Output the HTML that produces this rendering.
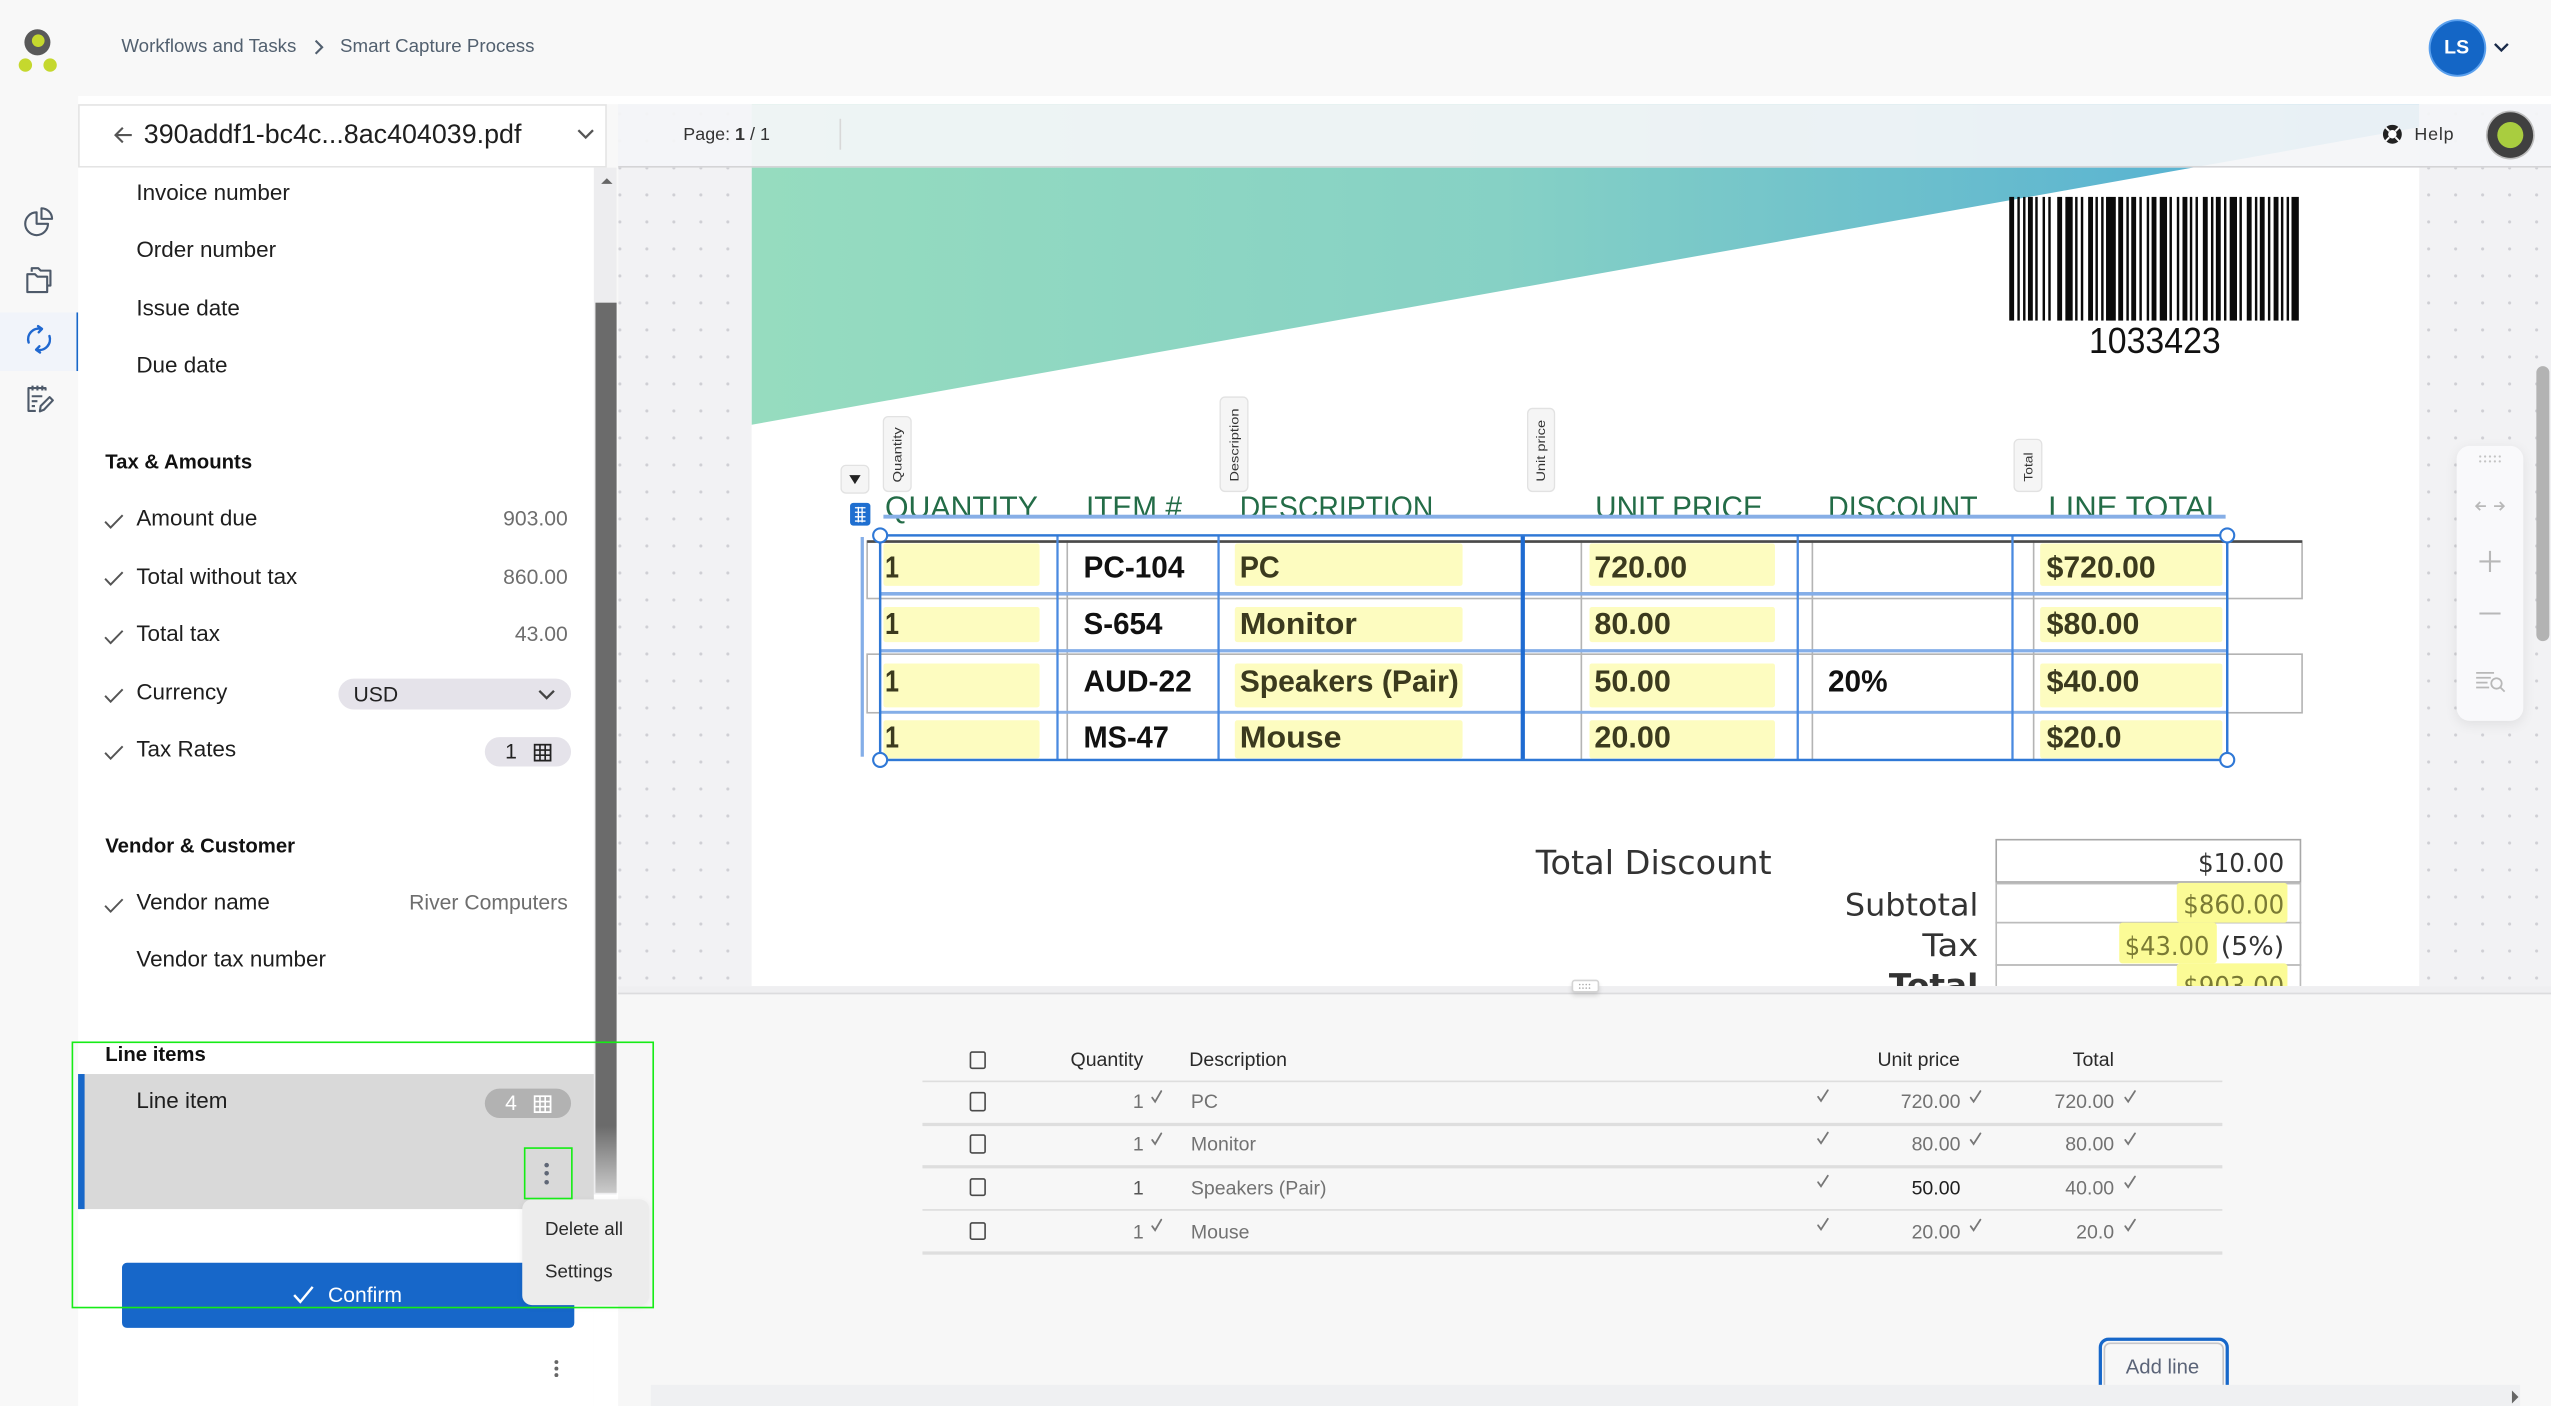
<!DOCTYPE html>
<html><head><meta charset="utf-8"><title>Smart Capture Process</title>
<style>
html,body{margin:0;padding:0;background:#f8f8f8;width:2551px;height:1406px;overflow:hidden}
#s{position:absolute;left:0;top:0;width:1568px;height:864px;transform:scale(1.62691,1.62731);transform-origin:0 0;font-family:"Liberation Sans",Arial,sans-serif;color:#222;background:#f8f8f8;overflow:hidden}
.a{position:absolute;white-space:nowrap}
.t{position:absolute;white-space:nowrap;height:20px;line-height:20px}
.lbl{font-size:13.8px;color:#1e1e1e}
.val{font-size:13px;color:#6e6e6e;text-align:right;width:200px;left:149px}
.hd{font-size:12.5px;font-weight:bold;color:#111}
.bt{font-size:12px;color:#2a2a2a}
.bv{font-size:12px;color:#727272}
.cb{position:absolute;width:10.5px;height:11.5px;border:1.5px solid #4a4a4a;border-radius:1.5px;box-sizing:border-box}
.rl{position:absolute;left:567px;width:799px;height:1.5px;background:#dedede}
</style></head><body><div id="s">

<!-- active rail bg -->
<div class="a" style="left:0;top:192px;width:46.5px;height:35.5px;background:#f1f4fa"></div>
<div class="a" style="left:46.5px;top:192px;width:2px;height:35.5px;background:#1767c9"></div>

<!-- logo + rail icons -->
<svg class="a" style="left:0;top:0" width="48" height="260" viewBox="0 0 48 260">
<circle cx="23" cy="26" r="8" fill="#595959"/>
<circle cx="23.5" cy="25" r="3.9" fill="#c5d82e"/>
<circle cx="15.6" cy="40" r="4.1" fill="#c5d82e"/>
<circle cx="30.8" cy="40" r="4.1" fill="#c5d82e"/>
<g fill="none" stroke="#4e5a6a" stroke-width="1.3" stroke-linejoin="round">
<path d="M22.5 130.5 A7 7 0 1 0 29.5 137.5 H22.5 Z"/>
<path d="M25.5 128 V134.5 H32 A6.5 6.5 0 0 0 25.5 128 Z"/>
<path d="M19.5 167 V164.8 H23.5 L25 166.3 H31 V175.5 H29"/>
<path d="M16.8 168.5 H21.5 L23 170 H29 V179.5 H16.8 Z"/>
<path d="M28 240 V238.5 H17.5 V252.5 H22"/>
<path d="M20 237 V240 M23 237 V240 M26 237 V240"/>
<path d="M19.5 243.5 H26 M19.5 246.5 H23 M19.5 249.5 H21.5"/>
<path d="M24.5 252.8 L25 249.5 L30.5 244 L32.5 246 L27 251.8 Z"/>
</g>
<g fill="none" stroke="#2068d0" stroke-width="1.5" stroke-linecap="round" stroke-linejoin="round">
<path d="M17.6 210.5 A6.6 6.6 0 0 1 25.5 202.1"/>
<path d="M23.4 200.4 L25.8 202.1 L23.8 204.2"/>
<path d="M30.4 206.5 A6.6 6.6 0 0 1 22.5 214.9"/>
<path d="M24.6 216.6 L22.2 214.9 L24.2 212.8"/>
</g>
</svg>

<!-- breadcrumb -->
<div class="t" style="left:74.6px;top:19px;font-size:11.5px;color:#52606f">Workflows and Tasks</div>
<svg class="a" style="left:192px;top:24px" width="8" height="10" viewBox="0 0 8 10"><polyline points="2,1 6,5 2,9" fill="none" stroke="#52606f" stroke-width="1.3"/></svg>
<div class="t" style="left:209px;top:19px;font-size:11.5px;color:#52606f">Smart Capture Process</div>

<!-- avatar -->
<div class="a" style="left:1493.5px;top:13px;width:33px;height:33px;border-radius:50%;background:#1466c6;box-shadow:0 0 0 1.2px #5aa0ee;color:#fff;font-weight:bold;font-size:12px;line-height:33px;text-align:center">LS</div>
<svg class="a" style="left:1532px;top:25px" width="11" height="8" viewBox="0 0 11 8"><polyline points="1.5,2 5.5,6 9.5,2" fill="none" stroke="#1a2b4a" stroke-width="1.5"/></svg>

<!-- white strip -->
<div class="a" style="left:48px;top:59px;width:1520px;height:5px;background:#fff"></div>

<!-- left panel header -->
<div class="a" style="left:48px;top:63.5px;width:324.6px;height:39px;background:#fff;border:1px solid #e4e4e4;box-sizing:border-box"></div>
<svg class="a" style="left:69px;top:77px" width="13" height="12" viewBox="0 0 13 12"><path d="M12 6 H2 M6.5 1.5 L2 6 L6.5 10.5" fill="none" stroke="#555" stroke-width="1.3"/></svg>
<div class="t" style="left:88.4px;top:72.5px;font-size:16.5px;color:#1e1e1e">390addf1-bc4c...8ac404039.pdf</div>
<svg class="a" style="left:354px;top:78px" width="12" height="9" viewBox="0 0 12 9"><polyline points="1.5,2 6,6.5 10.5,2" fill="none" stroke="#555" stroke-width="1.4"/></svg>

<!-- left panel list -->
<div class="a" style="left:48px;top:102.5px;width:317px;height:761.5px;background:#fff"></div>
<div class="a" style="left:365px;top:733px;width:15px;height:131px;background:#fff"></div>
<div class="a" style="left:365px;top:102.5px;width:14px;height:631px;background:#ededef"></div>
<div class="a" style="left:366px;top:186px;width:12.6px;height:547px;background:linear-gradient(to bottom,#6b6b6b 0,#6b6b6b 506px,#cbcbcb 100%)"></div>
<svg class="a" style="left:368.5px;top:109px" width="8" height="5" viewBox="0 0 8 5"><polygon points="0.5,4 4,0.5 7.5,4" fill="#666"/></svg>

<div class="t lbl" style="left:83.8px;top:108.5px">Invoice number</div>
<div class="t lbl" style="left:83.8px;top:144px">Order number</div>
<div class="t lbl" style="left:83.8px;top:179.6px">Issue date</div>
<div class="t lbl" style="left:83.8px;top:215.4px">Due date</div>

<div class="t hd" style="left:64.7px;top:273.6px">Tax &amp; Amounts</div>

<svg class="a" style="left:63.7px;top:315.6px" width="12" height="9" viewBox="0 0 12 9"><polyline points="0.6,4.6 4,8.2 11.4,0.6" fill="none" stroke="#555" stroke-width="1.2"/></svg>
<div class="t lbl" style="left:83.8px;top:308.8px">Amount due</div>
<div class="t val" style="top:308.8px">903.00</div>

<svg class="a" style="left:63.7px;top:351.4px" width="12" height="9" viewBox="0 0 12 9"><polyline points="0.6,4.6 4,8.2 11.4,0.6" fill="none" stroke="#555" stroke-width="1.2"/></svg>
<div class="t lbl" style="left:83.8px;top:344.5px">Total without tax</div>
<div class="t val" style="top:344.5px">860.00</div>

<svg class="a" style="left:63.7px;top:386.6px" width="12" height="9" viewBox="0 0 12 9"><polyline points="0.6,4.6 4,8.2 11.4,0.6" fill="none" stroke="#555" stroke-width="1.2"/></svg>
<div class="t lbl" style="left:83.8px;top:379.8px">Total tax</div>
<div class="t val" style="top:379.8px">43.00</div>

<svg class="a" style="left:63.7px;top:422.6px" width="12" height="9" viewBox="0 0 12 9"><polyline points="0.6,4.6 4,8.2 11.4,0.6" fill="none" stroke="#555" stroke-width="1.2"/></svg>
<div class="t lbl" style="left:83.8px;top:415.8px">Currency</div>
<div class="a" style="left:207.7px;top:417px;width:143px;height:19px;border-radius:9.5px;background:#e5e3ea"></div>
<div class="t" style="left:217.3px;top:416.5px;font-size:13px;color:#222">USD</div>
<svg class="a" style="left:329.5px;top:422.5px" width="12" height="8" viewBox="0 0 12 8"><polyline points="1.5,1.5 6,6 10.5,1.5" fill="none" stroke="#444" stroke-width="1.4"/></svg>

<svg class="a" style="left:63.7px;top:457.8px" width="12" height="9" viewBox="0 0 12 9"><polyline points="0.6,4.6 4,8.2 11.4,0.6" fill="none" stroke="#555" stroke-width="1.2"/></svg>
<div class="t lbl" style="left:83.8px;top:451px">Tax Rates</div>
<div class="a" style="left:298px;top:453px;width:52.7px;height:18px;border-radius:9px;background:#e5e3ea"></div>
<div class="t" style="left:310.5px;top:452px;font-size:13px;color:#222">1</div>
<svg class="a" style="left:327.5px;top:456.5px" width="11" height="11" viewBox="0 0 11 11"><rect x=".6" y=".6" width="9.8" height="9.8" fill="none" stroke="#222" stroke-width="1.1"/><path d="M3.9 .6V10.4M7.1 .6V10.4M.6 3.9H10.4M.6 7.1H10.4" stroke="#222" stroke-width="1"/></svg>

<div class="t hd" style="left:64.7px;top:510px">Vendor &amp; Customer</div>

<svg class="a" style="left:63.7px;top:551.8px" width="12" height="9" viewBox="0 0 12 9"><polyline points="0.6,4.6 4,8.2 11.4,0.6" fill="none" stroke="#555" stroke-width="1.2"/></svg>
<div class="t lbl" style="left:83.8px;top:545px">Vendor name</div>
<div class="t val" style="top:545px">River Computers</div>

<div class="t lbl" style="left:83.8px;top:580.4px">Vendor tax number</div>

<div class="t hd" style="left:64.7px;top:638px">Line items</div>

<div class="a" style="left:48px;top:659.6px;width:316.5px;height:83.4px;background:#d9d9d9"></div>
<div class="a" style="left:48px;top:659.6px;width:3.6px;height:83.4px;background:#1767c9"></div>
<div class="t lbl" style="left:83.8px;top:667px">Line item</div>
<div class="a" style="left:298px;top:669px;width:52.6px;height:18px;border-radius:9px;background:#b2b2b2"></div>
<div class="t" style="left:310.5px;top:668px;font-size:13px;color:#fff">4</div>
<svg class="a" style="left:327.5px;top:672.5px" width="11" height="11" viewBox="0 0 11 11"><rect x=".6" y=".6" width="9.8" height="9.8" fill="none" stroke="#fff" stroke-width="1.1"/><path d="M3.9 .6V10.4M7.1 .6V10.4M.6 3.9H10.4M.6 7.1H10.4" stroke="#fff" stroke-width="1"/></svg>
<svg class="a" style="left:332px;top:712px" width="8" height="18" viewBox="0 0 8 18"><circle cx="4" cy="4" r="1.4" fill="#5f6776"/><circle cx="4" cy="9" r="1.4" fill="#5f6776"/><circle cx="4" cy="14.5" r="1.4" fill="#5f6776"/></svg>

<!-- confirm button -->
<div class="a" style="left:74.6px;top:776px;width:278.4px;height:40px;background:#1767c9;border-radius:3px"></div>
<svg class="a" style="left:179.7px;top:789.5px" width="13" height="11" viewBox="0 0 13 11"><polyline points="0.8,5.8 4.6,10 12.2,0.8" fill="none" stroke="#fff" stroke-width="1.5"/></svg>
<div class="t" style="left:201.6px;top:786px;font-size:13px;color:#fff">Confirm</div>

<svg class="a" style="left:338px;top:834px" width="8" height="14" viewBox="0 0 8 14"><circle cx="4" cy="3" r="1.2" fill="#666"/><circle cx="4" cy="7" r="1.2" fill="#666"/><circle cx="4" cy="11" r="1.2" fill="#666"/></svg>

<!-- document area -->
<div class="a" style="left:380px;top:64px;width:1188px;height:543px;background-color:#f2f2f4;background-image:radial-gradient(circle,#cfcfd4 0.8px,transparent 1.1px);background-size:16.6px 16.6px;background-position:-7.3px -2.3px"></div>
<div class="a" style="left:462px;top:64px;width:1025px;height:542px;background:#fff"></div>

<svg class="a" style="left:0;top:0" width="1568" height="864" viewBox="0 0 1568 864" font-family="Liberation Sans, Arial, sans-serif">
<defs>
<linearGradient id="tg" x1="462" y1="0" x2="1487" y2="0" gradientUnits="userSpaceOnUse">
<stop offset="0" stop-color="#96dcbf"/><stop offset=".45" stop-color="#86d1c5"/><stop offset=".78" stop-color="#63b9cf"/><stop offset="1" stop-color="#46abd6"/></linearGradient>
<clipPath id="pc"><rect x="462" y="64" width="1025" height="542"/></clipPath>
</defs>
<g clip-path="url(#pc)">
<polygon points="462,64 1487,64 1487,78.2 462,261" fill="url(#tg)"/>
<g fill="#0a0a0a">
<rect x="1235" y="121" width="3" height="76"/><rect x="1240" y="121" width="1.5" height="76"/><rect x="1243.5" y="121" width="1.5" height="76"/><rect x="1246.5" y="121" width="3" height="76"/><rect x="1251" y="121" width="1.5" height="76"/><rect x="1255.5" y="121" width="1.5" height="76"/><rect x="1259" y="121" width="1.5" height="76"/><rect x="1264.5" y="121" width="3" height="76"/><rect x="1269.5" y="121" width="4.5" height="76"/><rect x="1275.5" y="121" width="1.5" height="76"/><rect x="1279" y="121" width="1.5" height="76"/><rect x="1283.5" y="121" width="3" height="76"/><rect x="1288" y="121" width="1.5" height="76"/><rect x="1291.5" y="121" width="1.5" height="76"/><rect x="1294.5" y="121" width="6" height="76"/><rect x="1302" y="121" width="3" height="76"/><rect x="1307" y="121" width="1.5" height="76"/><rect x="1310" y="121" width="3" height="76"/><rect x="1315" y="121" width="1.5" height="76"/><rect x="1319.5" y="121" width="1.5" height="76"/><rect x="1322.5" y="121" width="3" height="76"/><rect x="1327.5" y="121" width="4.5" height="76"/><rect x="1333.5" y="121" width="1.5" height="76"/><rect x="1338" y="121" width="1.5" height="76"/><rect x="1341.5" y="121" width="3" height="76"/><rect x="1346" y="121" width="1.5" height="76"/><rect x="1349.5" y="121" width="1.5" height="76"/><rect x="1354" y="121" width="3" height="76"/><rect x="1359" y="121" width="1.5" height="76"/><rect x="1362" y="121" width="3" height="76"/><rect x="1367" y="121" width="1.5" height="76"/><rect x="1370.5" y="121" width="4.5" height="76"/><rect x="1376.5" y="121" width="1.5" height="76"/><rect x="1381" y="121" width="3" height="76"/><rect x="1386" y="121" width="1.5" height="76"/><rect x="1389" y="121" width="3" height="76"/><rect x="1394" y="121" width="1.5" height="76"/><rect x="1397.5" y="121" width="3" height="76"/><rect x="1402" y="121" width="1.5" height="76"/><rect x="1405.5" y="121" width="1.5" height="76"/><rect x="1408.5" y="121" width="4.5" height="76"/>
</g>
<text x="1284" y="217" font-size="22" textLength="81" lengthAdjust="spacingAndGlyphs" fill="#111">1033423</text>

<!-- tag pills -->
<g fill="#f5f5f5" stroke="#e2e2e2" stroke-width="0.8">
<rect x="543" y="256" width="17" height="46" rx="3"/>
<rect x="750" y="244" width="17" height="58" rx="3"/>
<rect x="939" y="251" width="16.5" height="51" rx="3"/>
<rect x="1238" y="270" width="17" height="32" rx="3"/>
<rect x="517" y="286" width="17" height="17" rx="3"/>
</g>
<g fill="#333" font-size="7.5">
<text transform="translate(554.2,296.5) rotate(-90)" textLength="34" lengthAdjust="spacingAndGlyphs">Quantity</text>
<text transform="translate(761.2,296) rotate(-90)" textLength="45" lengthAdjust="spacingAndGlyphs">Description</text>
<text transform="translate(949.7,296) rotate(-90)" textLength="38" lengthAdjust="spacingAndGlyphs">Unit price</text>
<text transform="translate(1249.2,296) rotate(-90)" textLength="18" lengthAdjust="spacingAndGlyphs">Total</text>
</g>
<polygon points="522,292 529,292 525.5,297.5" fill="#222"/>
<rect x="522.5" y="309" width="12.5" height="14" rx="2" fill="#1f6fd0"/>
<path d="M525.5 312 H532 M525.5 314.8 H532 M525.5 317.6 H532 M525.5 320.2 H532 M527.6 311.5 V321 M529.9 311.5 V321" stroke="#fff" stroke-width="0.8"/>

<!-- header labels -->
<g fill="#236c47" font-size="19">
<text x="544" y="318" textLength="94" lengthAdjust="spacingAndGlyphs">QUANTITY</text>
<text x="667.5" y="318" textLength="59" lengthAdjust="spacingAndGlyphs">ITEM #</text>
<text x="762" y="318" textLength="119" lengthAdjust="spacingAndGlyphs">DESCRIPTION</text>
<text x="980.5" y="318" textLength="103" lengthAdjust="spacingAndGlyphs">UNIT PRICE</text>
<text x="1123.6" y="318" textLength="92" lengthAdjust="spacingAndGlyphs">DISCOUNT</text>
<text x="1259" y="318" textLength="107.5" lengthAdjust="spacingAndGlyphs">LINE TOTAL</text>
</g>
<rect x="543" y="316.3" width="825" height="2.4" fill="#86aee6"/>

<!-- original gray table -->
<g fill="none" stroke="#b4b4b4" stroke-width="1">
<rect x="533" y="332.5" width="882" height="35.3"/>
<rect x="533" y="402" width="882" height="36"/>
<path d="M656 332 V467 M972 332 V467 M1114 332 V467 M1250 332 V467"/>
</g>
<path d="M533 332.8 H1415" stroke="#4a4a4a" stroke-width="1.6"/>

<!-- highlights -->
<g fill="#fdfcc0">
<rect x="543" y="334" width="96" height="26" rx="1.5"/><rect x="759" y="334" width="140" height="26" rx="1.5"/><rect x="977" y="334" width="114" height="26" rx="1.5"/><rect x="1254" y="334" width="112" height="26" rx="1.5"/>
<rect x="543" y="373" width="96" height="21.6" rx="1.5"/><rect x="759" y="373" width="140" height="21.6" rx="1.5"/><rect x="977" y="373" width="114" height="21.6" rx="1.5"/><rect x="1254" y="373" width="112" height="21.6" rx="1.5"/>
<rect x="543" y="407.7" width="96" height="27" rx="1.5"/><rect x="759" y="407.7" width="140" height="27" rx="1.5"/><rect x="977" y="407.7" width="114" height="27" rx="1.5"/><rect x="1254" y="407.7" width="112" height="27" rx="1.5"/>
<rect x="543" y="442.6" width="96" height="23.4" rx="1.5"/><rect x="759" y="442.6" width="140" height="23.4" rx="1.5"/><rect x="977" y="442.6" width="114" height="23.4" rx="1.5"/><rect x="1254" y="442.6" width="112" height="23.4" rx="1.5"/>
</g>

<!-- row text -->
<g font-size="18.5" font-weight="bold">
<g fill="#3b3a1e">
<text x="544" y="355" textLength="8.6" lengthAdjust="spacingAndGlyphs">1</text>
<text x="544" y="389.7" textLength="8.6" lengthAdjust="spacingAndGlyphs">1</text>
<text x="544" y="425" textLength="8.6" lengthAdjust="spacingAndGlyphs">1</text>
<text x="544" y="459.5" textLength="8.6" lengthAdjust="spacingAndGlyphs">1</text>
<text x="762" y="355" textLength="24.6" lengthAdjust="spacingAndGlyphs">PC</text>
<text x="762" y="389.7" textLength="72" lengthAdjust="spacingAndGlyphs">Monitor</text>
<text x="762" y="425" textLength="134.7" lengthAdjust="spacingAndGlyphs">Speakers (Pair)</text>
<text x="762" y="459.5" textLength="62.6" lengthAdjust="spacingAndGlyphs">Mouse</text>
<text x="980" y="355" textLength="57" lengthAdjust="spacingAndGlyphs">720.00</text>
<text x="980" y="389.7" textLength="47" lengthAdjust="spacingAndGlyphs">80.00</text>
<text x="980" y="425" textLength="47" lengthAdjust="spacingAndGlyphs">50.00</text>
<text x="980" y="459.5" textLength="47" lengthAdjust="spacingAndGlyphs">20.00</text>
<text x="1258" y="355" textLength="67" lengthAdjust="spacingAndGlyphs">$720.00</text>
<text x="1258" y="389.7" textLength="57" lengthAdjust="spacingAndGlyphs">$80.00</text>
<text x="1258" y="425" textLength="57" lengthAdjust="spacingAndGlyphs">$40.00</text>
<text x="1258" y="459.5" textLength="46" lengthAdjust="spacingAndGlyphs">$20.0</text>
</g>
<g fill="#111">
<text x="666" y="355" textLength="62" lengthAdjust="spacingAndGlyphs">PC-104</text>
<text x="666" y="389.7" textLength="48.5" lengthAdjust="spacingAndGlyphs">S-654</text>
<text x="666" y="425" textLength="66.6" lengthAdjust="spacingAndGlyphs">AUD-22</text>
<text x="666" y="459.5" textLength="52.5" lengthAdjust="spacingAndGlyphs">MS-47</text>
<text x="1123.6" y="425" textLength="36.6" lengthAdjust="spacingAndGlyphs">20%</text>
</g>
</g>

<!-- blue selection overlay -->
<g fill="#84aee8">
<rect x="541" y="363.8" width="828" height="2.2"/>
<rect x="541" y="398.9" width="828" height="2"/>
<rect x="541" y="436.8" width="828" height="1.8"/>
<rect x="529" y="330" width="2" height="135"/>
</g>
<g stroke="#4a8ae0" stroke-width="1.4">
<path d="M650 329 V467 M749 329 V467 M1105 329 V467 M1237 329 V467"/>
</g>
<path d="M936 329 V467" stroke="#1f6bd1" stroke-width="2.6"/>
<rect x="541" y="329" width="828" height="138" fill="none" stroke="#2f78d6" stroke-width="1.5"/>
<g fill="#fff" stroke="#2f78d6" stroke-width="1.3">
<circle cx="541" cy="329" r="4.3"/><circle cx="1369" cy="329" r="4.3"/><circle cx="541" cy="467" r="4.3"/><circle cx="1369" cy="467" r="4.3"/>
</g>

<!-- totals -->
<g fill="none" stroke="#bcbcbc" stroke-width="1">
<rect x="1227" y="516" width="187" height="26" stroke="#a8a8a8"/>
<rect x="1227" y="543" width="187" height="24"/>
<rect x="1227" y="567" width="187" height="26"/>
<rect x="1227" y="593" width="187" height="24"/>
</g>
<g fill="#fbfb96">
<rect x="1338" y="542.5" width="68" height="24.5" rx="2"/>
<rect x="1302.6" y="567" width="60" height="25" rx="2"/>
<rect x="1338" y="592" width="68" height="20" rx="2"/>
</g>
<g font-family="DejaVu Sans, Verdana, sans-serif" fill="#333">
<text x="944" y="537" font-size="20" textLength="145" lengthAdjust="spacingAndGlyphs">Total Discount</text>
<text x="1134" y="562.6" font-size="19" textLength="82" lengthAdjust="spacingAndGlyphs">Subtotal</text>
<text x="1181.6" y="587.6" font-size="19" textLength="34.4" lengthAdjust="spacingAndGlyphs">Tax</text>
<text x="1161" y="612" font-size="19" font-weight="bold" textLength="55" lengthAdjust="spacingAndGlyphs">Total</text>
<text x="1351" y="536" font-size="16" textLength="53" lengthAdjust="spacingAndGlyphs">$10.00</text>
<text x="1365" y="587" font-size="16" textLength="39" lengthAdjust="spacingAndGlyphs">(5%)</text>
<g fill="#7a7a34">
<text x="1342" y="561.5" font-size="16" textLength="62" lengthAdjust="spacingAndGlyphs">$860.00</text>
<text x="1306" y="587" font-size="16" textLength="52" lengthAdjust="spacingAndGlyphs">$43.00</text>
<text x="1342" y="611.5" font-size="16" textLength="62" lengthAdjust="spacingAndGlyphs">$903.00</text>
</g>
</g>
</g>
</svg>

<!-- toolbar -->
<div class="a" style="left:380px;top:64px;width:1188px;height:38.5px;background:rgba(244,245,247,0.93);border-bottom:1px solid #d4d4d6;box-sizing:border-box"></div>
<div class="t" style="left:420px;top:72.5px;font-size:11px;color:#333">Page: <b>1</b> / 1</div>
<div class="a" style="left:516px;top:72.6px;width:1px;height:19.4px;background:#d8d8d8"></div>
<svg class="a" style="left:1463.5px;top:76px" width="13" height="13" viewBox="0 0 13 13">
<circle cx="6.5" cy="6.5" r="5.8" fill="#222"/><circle cx="6.5" cy="6.5" r="2.6" fill="#fff"/>
<path d="M2.4 2.4 L4.6 4.6 M10.6 2.4 L8.4 4.6 M2.4 10.6 L4.6 8.4 M10.6 10.6 L8.4 8.4" stroke="#fff" stroke-width="1.2"/>
</svg>
<div class="t" style="left:1484px;top:72.5px;font-size:11px;letter-spacing:0.5px;color:#333">Help</div>
<svg class="a" style="left:1527px;top:66.5px" width="32" height="32" viewBox="0 0 32 32">
<circle cx="16" cy="16" r="15" fill="#bdbdbd"/><circle cx="16" cy="16" r="14" fill="#404040"/><circle cx="16" cy="16" r="8" fill="#a9cd3f"/>
</svg>

<!-- zoom controls -->
<div class="a" style="left:1559px;top:225px;width:8px;height:169px;background:#b3b3b3;border-radius:4px"></div>
<div class="a" style="left:1510px;top:274px;width:41px;height:169px;background:#f9f9fb;border-radius:8px;box-shadow:0 2px 8px rgba(0,0,0,0.08)"></div>
<svg class="a" style="left:1510px;top:274px" width="41" height="169" viewBox="0 0 41 169">
<g fill="#c4c4c4"><circle cx="14.5" cy="6.5" r=".7"/><circle cx="17.5" cy="6.5" r=".7"/><circle cx="20.5" cy="6.5" r=".7"/><circle cx="23.5" cy="6.5" r=".7"/><circle cx="26.5" cy="6.5" r=".7"/><circle cx="14.5" cy="9.5" r=".7"/><circle cx="17.5" cy="9.5" r=".7"/><circle cx="20.5" cy="9.5" r=".7"/><circle cx="23.5" cy="9.5" r=".7"/><circle cx="26.5" cy="9.5" r=".7"/></g>
<g fill="none" stroke="#b8b8b8" stroke-width="1.1">
<path d="M12 37 H18 M14.5 34.5 L12 37 L14.5 39.5 M23 37 H29 M26.5 34.5 L29 37 L26.5 39.5"/>
<path d="M14 71 H27 M20.5 64.5 V77.5" stroke-width="1.3"/>
<path d="M14 103 H27" stroke-width="1.3"/>
<path d="M12 139.5 H23 M12 142.5 H21 M12 145.5 H19 M12 148.5 H20"/>
<circle cx="24.5" cy="146" r="3.2"/><path d="M26.8 148.3 L29.5 151"/>
</g>
</svg>

<!-- splitter & bottom panel -->
<div class="a" style="left:380px;top:606px;width:1188px;height:258px;background:#f7f7f7"></div>
<div class="a" style="left:380px;top:606px;width:1188px;height:3.5px;background:#efeff1;border-bottom:1px solid #dcdcde"></div>
<div class="a" style="left:966px;top:602px;width:17px;height:8px;background:#fff;border:1px solid #d4d4d4;border-radius:2px;box-sizing:border-box;box-shadow:0 2px 3px rgba(0,0,0,0.12)"></div>
<svg class="a" style="left:966px;top:602px" width="17" height="8" viewBox="0 0 17 8"><g fill="#aaa"><circle cx="5" cy="3" r=".5"/><circle cx="7" cy="3" r=".5"/><circle cx="9" cy="3" r=".5"/><circle cx="11" cy="3" r=".5"/><circle cx="5" cy="5.2" r=".5"/><circle cx="7" cy="5.2" r=".5"/><circle cx="9" cy="5.2" r=".5"/><circle cx="11" cy="5.2" r=".5"/></g></svg>

<!-- bottom table -->
<div class="cb" style="left:595.6px;top:645.5px"></div>
<div class="t bt" style="left:658px;top:641px">Quantity</div>
<div class="t bt" style="left:731px;top:641px">Description</div>
<div class="t bt" style="left:1154px;top:641px">Unit price</div>
<div class="t bt" style="left:1274px;top:641px">Total</div>
<div class="rl" style="top:663.5px"></div>
<div class="rl" style="top:690px"></div>
<div class="rl" style="top:716.3px"></div>
<div class="rl" style="top:742.6px"></div>
<div class="rl" style="top:769px"></div>

<div class="cb" style="left:595.6px;top:671.3px"></div>
<div class="t bv" style="left:650px;width:53px;text-align:right;top:667px">1</div>
<div class="t bv" style="left:732px;top:667px">PC</div>
<div class="t bv" style="left:1130px;width:75px;text-align:right;top:667px">720.00</div>
<div class="t bv" style="left:1230px;width:69.5px;text-align:right;top:667px">720.00</div>

<div class="cb" style="left:595.6px;top:697.3px"></div>
<div class="t bv" style="left:650px;width:53px;text-align:right;top:693px">1</div>
<div class="t bv" style="left:732px;top:693px">Monitor</div>
<div class="t bv" style="left:1130px;width:75px;text-align:right;top:693px">80.00</div>
<div class="t bv" style="left:1230px;width:69.5px;text-align:right;top:693px">80.00</div>

<div class="cb" style="left:595.6px;top:723.9px"></div>
<div class="t bv" style="left:650px;width:53px;text-align:right;top:719.6px;color:#555">1</div>
<div class="t bv" style="left:732px;top:719.6px">Speakers (Pair)</div>
<div class="t bv" style="left:1130px;width:75px;text-align:right;top:719.6px;color:#1e1e1e">50.00</div>
<div class="t bv" style="left:1230px;width:69.5px;text-align:right;top:719.6px">40.00</div>

<div class="cb" style="left:595.6px;top:750.8px"></div>
<div class="t bv" style="left:650px;width:53px;text-align:right;top:746.5px">1</div>
<div class="t bv" style="left:732px;top:746.5px">Mouse</div>
<div class="t bv" style="left:1130px;width:75px;text-align:right;top:746.5px">20.00</div>
<div class="t bv" style="left:1230px;width:69.5px;text-align:right;top:746.5px">20.0</div>

<svg class="a" style="left:0;top:0" width="1568" height="864" viewBox="0 0 1568 864">
<g fill="none" stroke="#777" stroke-width="1.1" stroke-linecap="round">
<path d="M708.2 674.5 L710 677 L713.8 670.5"/><path d="M1117.5 674 L1119.3 676.5 L1123.5 670"/><path d="M1211.3 674.5 L1213.1 677 L1217.3 670.5"/><path d="M1306.3 674.5 L1308.1 677 L1312.3 670.5"/>
<path d="M708.2 700.5 L710 703 L713.8 696.5"/><path d="M1117.5 700 L1119.3 702.5 L1123.5 696"/><path d="M1211.3 700.5 L1213.1 703 L1217.3 696.5"/><path d="M1306.3 700.5 L1308.1 703 L1312.3 696.5"/>
<path d="M1117.5 726.5 L1119.3 729 L1123.5 722.5"/><path d="M1306.3 727 L1308.1 729.5 L1312.3 723"/>
<path d="M708.2 753.5 L710 756 L713.8 749.5"/><path d="M1117.5 753 L1119.3 755.5 L1123.5 749"/><path d="M1211.3 753.5 L1213.1 756 L1217.3 749.5"/><path d="M1306.3 753.5 L1308.1 756 L1312.3 749.5"/>
</g>
</svg>

<!-- add line button -->
<div class="a" style="left:1289.5px;top:821.7px;width:80px;height:40px;border:2px solid #1767c9;border-radius:6px;box-sizing:border-box;background:#f7f7f7"></div>
<div class="a" style="left:1292.5px;top:824.7px;width:74px;height:36px;border:1px solid #c6c6ca;border-radius:4px;box-sizing:border-box"></div>
<div class="t" style="left:1306.6px;top:829.6px;font-size:12.5px;color:#5b6478">Add line</div>

<!-- bottom scrollbar -->
<div class="a" style="left:400px;top:850.5px;width:1149px;height:14px;background:#eff0f2"></div>
<svg class="a" style="left:1542px;top:854px" width="8" height="9" viewBox="0 0 8 9"><polygon points="2,0.5 6,4.5 2,8.5" fill="#666"/></svg>

<!-- menu (on top) -->
<div class="a" style="left:321px;top:737px;width:77.6px;height:65px;background:#ececec;border-radius:6px;box-shadow:0 1px 4px rgba(0,0,0,0.06)"></div>
<div class="t" style="left:335px;top:745.6px;font-size:11.5px;color:#2a2a2a">Delete all</div>
<div class="t" style="left:335px;top:772px;font-size:11.5px;color:#2a2a2a">Settings</div>

<!-- green outlines -->
<div class="a" style="left:44px;top:640px;width:358px;height:164px;border:1.8px solid #16ec16;box-sizing:border-box"></div>
<div class="a" style="left:321.6px;top:705px;width:30.4px;height:31.6px;border:1.8px solid #16ec16;box-sizing:border-box"></div>

</div></body></html>
